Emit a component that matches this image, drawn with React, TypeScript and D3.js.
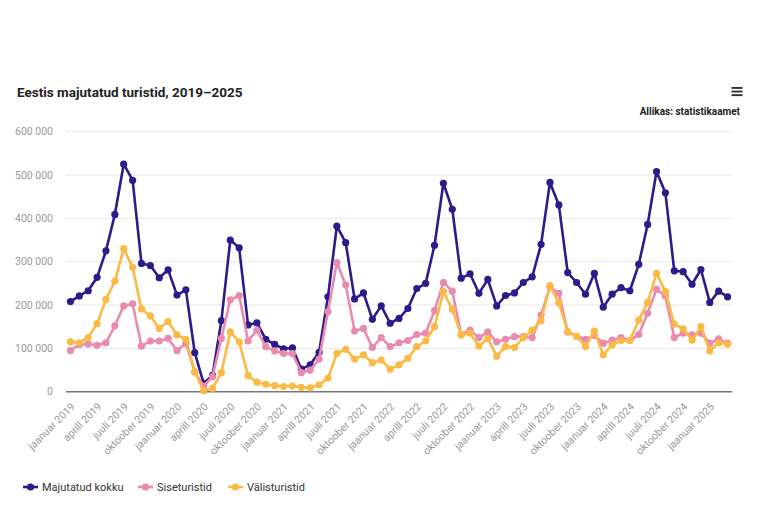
import { useEffect, useMemo, useRef } from 'react';
import * as d3 from 'd3';

const monthNames = [
    'jaanuar', 'veebruar', 'märts', 'aprill', 'mai', 'juuni',
    'juuli', 'august', 'september', 'oktoober', 'november', 'detsember',
];

// jaanuar 2019 ... märts 2025
const months: string[] = d3.range(75).map(
    (i) => `${monthNames[i % 12]} ${2019 + Math.floor(i / 12)}`
);

const totalValues = [
    208, 221, 233, 264, 325, 409, 525, 488, 296, 291, 263, 281,
    223, 235, 90, 19, 38, 164, 350, 332, 154, 159, 121, 109,
    99, 101, 52, 62, 91, 219, 382, 344, 214, 228, 167, 198,
    158, 169, 192, 238, 250, 338, 481, 421, 262, 272, 227, 259,
    198, 222, 228, 252, 265, 340, 483, 431, 275, 252, 225, 273,
    195, 225, 240, 233, 294, 386, 508, 459, 279, 277, 248, 282,
    206, 232, 219,
];

const domesticValues = [
    95, 109, 110, 107, 113, 152, 198, 203, 105, 117, 117, 123,
    95, 112, 45, 13, 35, 123, 212, 222, 117, 142, 104, 94,
    88, 88, 44, 50, 75, 185, 298, 246, 140, 146, 102, 125,
    104, 113, 118, 132, 135, 187, 252, 232, 132, 142, 125, 138,
    115, 121, 127, 127, 125, 177, 242, 227, 138, 128, 121, 130,
    112, 119, 125, 118, 132, 181, 236, 221, 125, 135, 131, 135,
    112, 122, 112,
];

const foreignValues = [
    115, 113, 125, 157, 213, 255, 330, 287, 191, 175, 146, 162,
    131, 121, 46, 2, 8, 44, 138, 115, 37, 22, 17, 14,
    12, 13, 10, 9, 16, 31, 88, 98, 75, 85, 67, 73,
    52, 62, 77, 104, 117, 150, 231, 190, 131, 135, 105, 123,
    82, 104, 102, 125, 142, 164, 245, 205, 138, 128, 104, 140,
    85, 108, 118, 118, 165, 206, 273, 231, 156, 145, 119, 150,
    94, 113, 110,
];

const seriesNames = ['Majutatud kokku', 'Siseturistid', 'Välisturistid'];
const seriesColors = ['#2e1b8b', '#e98bb0', '#fbba45'];
const yTicks = [0, 100000, 200000, 300000, 400000, 500000, 600000];

const W = 768;
const H = 505;
const plot = { left: 66, right: 732, top: 131.7, bottom: 391.7 };
const font = 'Roboto, "Noto Sans", sans-serif';

export default function App() {
    const xAxisEl = useRef<SVGGElement>(null);

    const x = useMemo(
        () => d3.scalePoint<string>().domain(months).range([plot.left, plot.right]).padding(0.5),
        []
    );
    const y = useMemo(
        () => d3.scaleLinear().domain([0, 600000]).range([plot.bottom, plot.top]),
        []
    );

    const series = [totalValues, domesticValues, foreignValues].map((vals) =>
        vals.map((v, i) => ({ m: months[i], v: v * 1000 }))
    );
    const line = d3
        .line<{ m: string; v: number }>()
        .x((d) => x(d.m) as number)
        .y((d) => y(d.v));

    const fmt = (v: number) => d3.format(',')(v).replace(/,/g, ' ');

    useEffect(() => {
        if (!xAxisEl.current) return;
        const tickMonths = months.filter((_, i) => i % 3 === 0);
        d3.select(xAxisEl.current)
            .call(d3.axisBottom(x).tickValues(tickMonths).tickSize(0) as any)
            .call((g) => g.select('.domain').remove())
            .call((g) =>
                g
                    .selectAll('.tick text')
                    .attr('text-anchor', 'end')
                    .attr('fill', '#999')
                    .attr('font-size', 10.5)
                    .attr('font-family', font)
                    .attr('dy', '0.35em')
                    .attr('y', 0)
                    .attr('transform', 'translate(2, 13) rotate(-45)')
            );
    }, [x]);

    return (
        <div style={{ position: 'absolute', left: 0, top: 0 }}>
            <svg width={W} height={H} viewBox={`0 0 ${W} ${H}`} fontFamily={font}>
                <rect width={W} height={H} fill="#fff" />
                <text x={17} y={97} fontSize={13.5} fontWeight="bold" fill="#222">
                    Eestis majutatud turistid, 2019–2025
                </text>
                <g fill="#333">
                    {[0, 1, 2].map((i) => (
                        <rect key={i} x={731.5} y={87 + i * 3.6} width={11} height={1.9} />
                    ))}
                </g>
                <text x={740} y={115} fontSize={10} fontWeight="bold" fill="#222" textAnchor="end">
                    Allikas: statistikaamet
                </text>

                {yTicks.map((t) => (
                    <g key={t}>
                        {t > 0 && (
                            <line
                                x1={plot.left}
                                x2={plot.right}
                                y1={y(t)}
                                y2={y(t)}
                                stroke="#e6e6e6"
                                strokeWidth={1}
                            />
                        )}
                        <text
                            x={53}
                            y={y(t)}
                            dy="0.35em"
                            textAnchor="end"
                            fontSize={10.5}
                            fill="#999"
                        >
                            {fmt(t)}
                        </text>
                    </g>
                ))}
                <line
                    x1={plot.left}
                    x2={plot.right}
                    y1={y(0)}
                    y2={y(0)}
                    stroke="#777"
                    strokeWidth={1.5}
                />
                <g ref={xAxisEl} transform={`translate(0, ${plot.bottom})`} />

                {series.map((s, si) => (
                    <g key={si}>
                        <path
                            d={line(s) ?? ''}
                            fill="none"
                            stroke={seriesColors[si]}
                            strokeWidth={2.6}
                            strokeLinejoin="round"
                        />
                        {s.map((d, i) => (
                            <circle
                                key={i}
                                cx={x(d.m)}
                                cy={y(d.v)}
                                r={3.6}
                                fill={seriesColors[si]}
                            />
                        ))}
                    </g>
                ))}

                {seriesNames.map((name, i) => {
                    const lx = [23, 138, 228][i];
                    return (
                        <g key={name} transform={`translate(${lx}, 487)`}>
                            <line x1={0} x2={15} y1={0} y2={0} stroke={seriesColors[i]} strokeWidth={2.6} />
                            <circle cx={7.5} cy={0} r={3.6} fill={seriesColors[i]} />
                            <text x={19} y={0} dy="0.35em" fontSize={11} fill="#333">
                                {name}
                            </text>
                        </g>
                    );
                })}
            </svg>
        </div>
    );
}
